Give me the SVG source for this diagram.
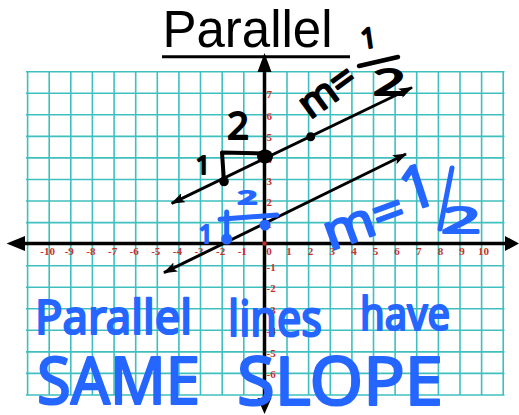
<svg xmlns="http://www.w3.org/2000/svg" width="519" height="415" viewBox="0 0 519 415">
<defs>
<style>
.grid line{stroke:#3fbfbf;stroke-width:1.6}
.lab{font-family:"Liberation Serif","DejaVu Serif",serif;font-weight:bold;font-size:11px;fill:#c8302c}
.xl{text-anchor:middle}
.ax{stroke:#000;stroke-width:3.5;fill:none}
.pen{stroke:#000;stroke-width:3;fill:none}
.hw{font-family:"Noto Sans","Open Sans",sans-serif;fill:#2466ff;stroke:#2466ff;stroke-width:2.2;stroke-linejoin:round;stroke-linecap:round}
.hb{font-family:"Noto Sans","Open Sans",sans-serif;fill:#000;stroke:#000;stroke-width:2;stroke-linejoin:round}
.bl{stroke:#2466ff;stroke-width:5;stroke-linecap:round;fill:none}
</style>
<marker id="ah" viewBox="0 0 14 10" refX="13" refY="5" markerWidth="14" markerHeight="10" markerUnits="userSpaceOnUse" orient="auto-start-reverse">
<path d="M0,0 L14,5 L0,10 L3,5 z" fill="#000"/>
</marker>
</defs>
<rect width="519" height="415" fill="#fff"/>

<g id="title">
<text x="247.5" y="47" font-family="Liberation Sans, Arial, sans-serif" font-size="51" text-anchor="middle" fill="#000">Parallel</text>
<line x1="162" y1="56.7" x2="350" y2="56.7" stroke="#000" stroke-width="3"/>
</g>

<g id="grid" class="grid">
<line x1="27.6" y1="71.7" x2="27.6" y2="395"/>
<line x1="49.2" y1="71.7" x2="49.2" y2="395"/>
<line x1="70.8" y1="71.7" x2="70.8" y2="395"/>
<line x1="92.4" y1="71.7" x2="92.4" y2="395"/>
<line x1="114.1" y1="71.7" x2="114.1" y2="395"/>
<line x1="135.7" y1="71.7" x2="135.7" y2="395"/>
<line x1="157.3" y1="71.7" x2="157.3" y2="395"/>
<line x1="178.9" y1="71.7" x2="178.9" y2="395"/>
<line x1="200.5" y1="71.7" x2="200.5" y2="395"/>
<line x1="222.2" y1="71.7" x2="222.2" y2="395"/>
<line x1="243.8" y1="71.7" x2="243.8" y2="395"/>
<line x1="287" y1="71.7" x2="287" y2="395"/>
<line x1="308.6" y1="71.7" x2="308.6" y2="395"/>
<line x1="330.3" y1="71.7" x2="330.3" y2="395"/>
<line x1="351.9" y1="71.7" x2="351.9" y2="395"/>
<line x1="373.5" y1="71.7" x2="373.5" y2="395"/>
<line x1="395.1" y1="71.7" x2="395.1" y2="395"/>
<line x1="416.7" y1="71.7" x2="416.7" y2="395"/>
<line x1="438.4" y1="71.7" x2="438.4" y2="395"/>
<line x1="460" y1="71.7" x2="460" y2="395"/>
<line x1="481.6" y1="71.7" x2="481.6" y2="395"/>
<line x1="503.2" y1="71.7" x2="503.2" y2="395"/>
<line x1="26" y1="71.7" x2="504.5" y2="71.7"/>
<line x1="26" y1="93.3" x2="504.5" y2="93.3"/>
<line x1="26" y1="114.8" x2="504.5" y2="114.8"/>
<line x1="26" y1="136.4" x2="504.5" y2="136.4"/>
<line x1="26" y1="157.9" x2="504.5" y2="157.9"/>
<line x1="26" y1="179.5" x2="504.5" y2="179.5"/>
<line x1="26" y1="201" x2="504.5" y2="201"/>
<line x1="26" y1="222.6" x2="504.5" y2="222.6"/>
<line x1="26" y1="265.7" x2="504.5" y2="265.7"/>
<line x1="26" y1="287.2" x2="504.5" y2="287.2"/>
<line x1="26" y1="308.8" x2="504.5" y2="308.8"/>
<line x1="26" y1="330.3" x2="504.5" y2="330.3"/>
<line x1="26" y1="351.9" x2="504.5" y2="351.9"/>
<line x1="26" y1="373.4" x2="504.5" y2="373.4"/>
<line x1="26" y1="395" x2="504.5" y2="395"/>
</g>

<g id="axes">
<line class="ax" x1="22" y1="243.5" x2="506" y2="243.5"/>
<polygon points="6.5,243.5 25,236 25,251" fill="#000"/>
<polygon points="519,243.5 505,236 505,251" fill="#000"/>
<line class="ax" x1="264.5" y1="68" x2="264.5" y2="400"/>
<polygon points="264.5,53 257.5,72 271.5,72" fill="#000"/>
<polygon points="264.5,414 257.5,398 271.5,398" fill="#000"/>
<circle cx="264.5" cy="243.5" r="2.2" fill="#c8302c"/>
</g>

<g id="y-labels" class="lab">
<text x="266.5" y="98.3">7</text>
<text x="266.5" y="119.8">6</text>
<text x="266.5" y="141.4">5</text>
<text x="266.5" y="162.9">4</text>
<text x="266.5" y="184.5">3</text>
<text x="266.5" y="206">2</text>
<text x="266.5" y="227.6">1</text>
<text x="266.5" y="270.7">-1</text>
<text x="266.5" y="292.2">-2</text>
<text x="266.5" y="313.8">-3</text>
<text x="266.5" y="335.3">-4</text>
<text x="266.5" y="356.9">-5</text>
<text x="266.5" y="378.4">-6</text>
</g>

<g id="x-labels" class="lab xl">
<text x="47.7" y="254.5">-10</text>
<text x="69.3" y="254.5">-9</text>
<text x="90.9" y="254.5">-8</text>
<text x="112.6" y="254.5">-7</text>
<text x="134.2" y="254.5">-6</text>
<text x="155.8" y="254.5">-5</text>
<text x="177.4" y="254.5">-4</text>
<text x="199" y="254.5">-3</text>
<text x="220.7" y="254.5">-2</text>
<text x="242.3" y="254.5">-1</text>
<text x="269" y="254.5">0</text>
<text x="289" y="254.5">1</text>
<text x="310.6" y="254.5">2</text>
<text x="332.3" y="254.5">3</text>
<text x="353.9" y="254.5">4</text>
<text x="375.5" y="254.5">5</text>
<text x="397.1" y="254.5">6</text>
<text x="418.7" y="254.5">7</text>
<text x="440.4" y="254.5">8</text>
<text x="462" y="254.5">9</text>
<text x="483.6" y="254.5">10</text>
</g>

<g id="connectors">
<line id="line1" class="pen" x1="171.7" y1="203.3" x2="412" y2="87.5" marker-start="url(#ah)" marker-end="url(#ah)"/>
<line id="line2" class="pen" x1="164" y1="272.7" x2="406" y2="154" marker-start="url(#ah)" marker-end="url(#ah)"/>
</g>

<g id="line1-points">
<path d="M224,181.5 L222,152.5 L265,153.5" stroke="#000" stroke-width="4" fill="none" stroke-linejoin="round" stroke-linecap="round"/>
<circle cx="224" cy="181.5" r="4.8" fill="#000"/>
<ellipse cx="265" cy="156.5" rx="8" ry="7" fill="#000"/>
<circle cx="310.7" cy="136.7" r="4.5" fill="#000"/>
<text class="hb" x="238" y="139" font-size="38" text-anchor="middle">2</text>
<text class="hb" x="203" y="174" font-size="26" text-anchor="middle">1</text>
</g>

<g id="slope-black">
<text class="hb" transform="translate(310,120) rotate(-36)" font-size="40" textLength="62" lengthAdjust="spacingAndGlyphs">m=</text>
<text class="hb" transform="translate(370,48) rotate(-8)" font-size="28" text-anchor="middle">1</text>
<line x1="359" y1="66" x2="398" y2="57" stroke="#000" stroke-width="4.5" stroke-linecap="round"/>
<text class="hb" x="373" y="95" font-size="36" textLength="33" lengthAdjust="spacingAndGlyphs">2</text>
</g>

<g id="line2-points">
<line class="bl" x1="226.7" y1="239" x2="226.7" y2="212"/>
<line class="bl" x1="220" y1="219.3" x2="276.7" y2="215"/>
<circle cx="226.7" cy="239" r="5.5" fill="#2466ff"/>
<circle cx="265" cy="225" r="5.5" fill="#2466ff"/>
<text class="hw" x="206" y="243" font-size="26" text-anchor="middle">1</text>
<text class="hw" x="238" y="204" font-size="18" textLength="19" lengthAdjust="spacingAndGlyphs">2</text>
</g>

<g id="slope-blue">
<text class="hw" transform="translate(330,251) rotate(-20)" font-size="50" textLength="84" lengthAdjust="spacingAndGlyphs">m=</text>
<text class="hw" transform="translate(424,207) rotate(-18)" font-size="60" text-anchor="middle">1</text>
<line class="bl" x1="452" y1="168" x2="440" y2="229"/>
<text class="hw" x="441" y="233" font-size="36" textLength="40" lengthAdjust="spacingAndGlyphs">2</text>
</g>

<g id="note">
<text class="hw" x="35" y="334" font-size="48" textLength="157" lengthAdjust="spacingAndGlyphs">Parallel</text>
<text class="hw" x="228" y="336" font-size="50" textLength="94" lengthAdjust="spacingAndGlyphs">lines</text>
<text class="hw" x="360" y="330" font-size="45" textLength="90" lengthAdjust="spacingAndGlyphs">have</text>
<text class="hw" x="37" y="404" font-size="65" textLength="163" lengthAdjust="spacingAndGlyphs">SAME</text>
<text class="hw" x="237" y="405" font-size="67" textLength="206" lengthAdjust="spacingAndGlyphs">SLOPE</text>
</g>
</svg>
